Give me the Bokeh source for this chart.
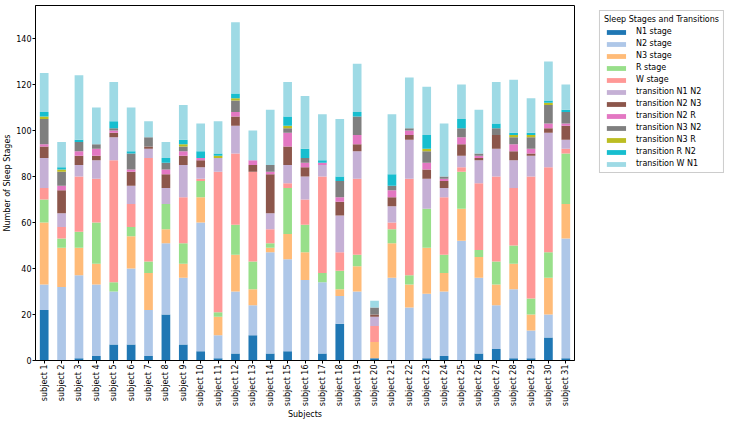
import math
from bokeh.plotting import figure
from bokeh.layouts import row
from bokeh.models import Range1d, FactorRange, Legend, LegendItem, ColumnDataSource
from bokeh.embed import file_html
from bokeh.resources import INLINE

subjects = [f"subject {i}" for i in range(1, 32)]

stages = ["N1 stage", "N2 stage", "N3 stage", "R stage", "W stage",
          "transition N1 N2", "transition N2 N3", "transition N2 R",
          "transition N3 N2", "transition N3 R", "transition R N2", "transition W N1"]

colors = ["#1f77b4", "#aec7e8", "#ffbb78", "#98df8a", "#ff9896", "#c5b0d5",
          "#8c564b", "#e377c2", "#7f7f7f", "#bcbd22", "#17becf", "#9edae5"]

n1_stage = [22, 0, 1, 2, 7, 7, 2, 20, 7, 4, 1, 3, 11, 3, 4, 0, 3, 16, 0, 1, 0, 0, 1, 2, 0, 3, 5, 1, 1, 10, 1]
n2_stage = [11, 32, 36, 31, 23, 33, 20, 31, 29, 56, 10, 27, 13, 44, 40, 35, 31, 12, 30, 0, 36, 23, 28, 28, 52, 33, 19, 30, 12, 10, 52]
n3_stage = [27, 17, 12, 9, 0, 14, 16, 6, 6, 11, 8, 16, 7, 2, 11, 12, 0, 3, 11, 7, 15, 10, 20, 8, 14, 9, 9, 11, 7, 16, 15]
r_stage = [10, 4, 7, 18, 4, 4, 5, 11, 9, 7, 2, 13, 12, 2, 20, 12, 4, 8, 5, 0, 6, 4, 17, 8, 16, 3, 10, 8, 7, 11, 22]
w_stage = [5, 5, 24, 19, 53, 10, 45, 0, 20, 1, 61, 31, 39, 6, 2, 11, 42, 8, 33, 7, 3, 42, 0, 25, 2, 29, 37, 25, 53, 37, 2]
t_n1_n2 = [13, 6, 5, 8, 10, 8, 4, 7, 14, 5, 6, 12, 0, 7, 8, 10, 5, 16, 12, 4, 7, 17, 13, 4, 5, 10, 12, 12, 9, 15, 4]
t_n2_n3 = [5, 10, 4, 2, 2, 6, 1, 6, 4, 3, 0, 4, 3, 17, 8, 4, 0, 6, 3, 1, 4, 2, 4, 3, 5, 1, 6, 4, 1, 2, 6]
t_n2_r = [1, 2, 2, 3, 1, 1, 0, 2, 2, 1, 0, 2, 2, 1, 6, 2, 1, 2, 4, 0, 3, 2, 3, 1, 3, 1, 0, 3, 2, 2, 1]
t_n3_n2 = [11, 6, 4, 2, 1, 7, 4, 3, 2, 0, 0, 5, 0, 3, 2, 2, 0, 7, 8, 3, 2, 1, 5, 1, 4, 1, 3, 3, 5, 8, 5]
t_n3_r = [1, 1, 0, 0, 0, 0, 0, 0, 1, 0, 1, 1, 0, 0, 1, 0, 0, 0, 0, 0, 0, 0, 1, 0, 0, 0, 0, 1, 1, 1, 0]
t_r_n2 = [2, 1, 1, 0, 3, 1, 0, 2, 2, 3, 1, 2, 0, 0, 4, 4, 1, 2, 2, 0, 5, 0, 6, 0, 4, 0, 2, 1, 1, 1, 1]
t_w_n1 = [17, 11, 28, 16, 17, 19, 7, 7, 15, 12, 14, 31, 13, 24, 15, 23, 20, 25, 21, 3, 26, 22, 21, 23, 15, 19, 18, 23, 15, 17, 11]

series = [n1_stage, n2_stage, n3_stage, r_stage, w_stage, t_n1_n2, t_n2_n3,
          t_n2_r, t_n3_n2, t_n3_r, t_r_n2, t_w_n1]

data = {"subjects": subjects}
for name, vals in zip(stages, series):
    data[name] = vals
source = ColumnDataSource(data)

FONT = "DejaVu Sans"
H = 422

p = figure(x_range=FactorRange(*subjects), y_range=Range1d(0, 154.3),
           width=576, height=H, output_backend="svg", toolbar_location=None,
           min_border_left=0, min_border_right=2, min_border_top=5, min_border_bottom=0)

p.vbar_stack(stages, x="subjects", width=0.5, fill_color=colors,
             line_color=None, source=source)

p.xgrid.grid_line_color = None
p.ygrid.grid_line_color = None
p.outline_line_color = "black"
p.outline_line_alpha = 1.0
p.background_fill_color = "white"
p.border_fill_color = "white"

p.yaxis.ticker = [0, 20, 40, 60, 80, 100, 120, 140]
p.yaxis.minor_tick_line_color = None
for ax in (p.xaxis[0], p.yaxis[0]):
    ax.major_tick_out = 3
    ax.major_tick_in = 0
    ax.major_label_standoff = 1
    ax.axis_label_standoff = 1
    ax.major_label_text_font = FONT
    ax.major_label_text_font_size = "8px"
    ax.major_label_text_color = "black"
    ax.axis_label_text_font = FONT
    ax.axis_label_text_font_size = "8px"
    ax.axis_label_text_font_style = "normal"
    ax.axis_label_text_color = "black"
    ax.axis_line_color = "black"
    ax.major_tick_line_color = "black"

p.xaxis.major_label_orientation = math.pi / 2
p.xaxis.axis_label = "Subjects"
p.yaxis.axis_label = "Number of Sleep Stages"

# Legend panel (separate figure to the right of the plot)
q = figure(width=729 - 576, height=H, x_range=Range1d(0, 1), y_range=Range1d(0, 1),
           output_backend="svg", toolbar_location=None,
           x_axis_location=None, y_axis_location=None,
           min_border_left=0, min_border_right=0, min_border_top=4, min_border_bottom=0)
q.grid.visible = False
q.outline_line_color = None
q.background_fill_color = "white"
q.border_fill_color = "white"

items = []
for s, c in zip(stages, colors):
    r = q.vbar(x=[-10], top=[0], width=0.5, fill_color=c, line_color=None)
    items.append(LegendItem(label=s, renderers=[r]))

legend = Legend(items=items, location="top_right")
legend.title = "Sleep Stages and Transitions"
legend.title_text_font = FONT
legend.title_text_font_size = "8px"
legend.title_text_font_style = "normal"
legend.title_text_color = "black"
legend.title_standoff = 3
legend.label_text_font = FONT
legend.label_text_font_size = "8px"
legend.label_text_color = "black"
legend.glyph_width = 24
legend.glyph_height = 6
legend.label_height = 9
legend.label_standoff = 8
legend.spacing = 3
legend.padding = 4
legend.margin = 5
legend.border_line_color = "#cccccc"
legend.border_line_alpha = 1.0
legend.background_fill_alpha = 0.8
q.add_layout(legend)

layout = row(p, q)
open("out.html", "w").write(file_html(layout, INLINE))
